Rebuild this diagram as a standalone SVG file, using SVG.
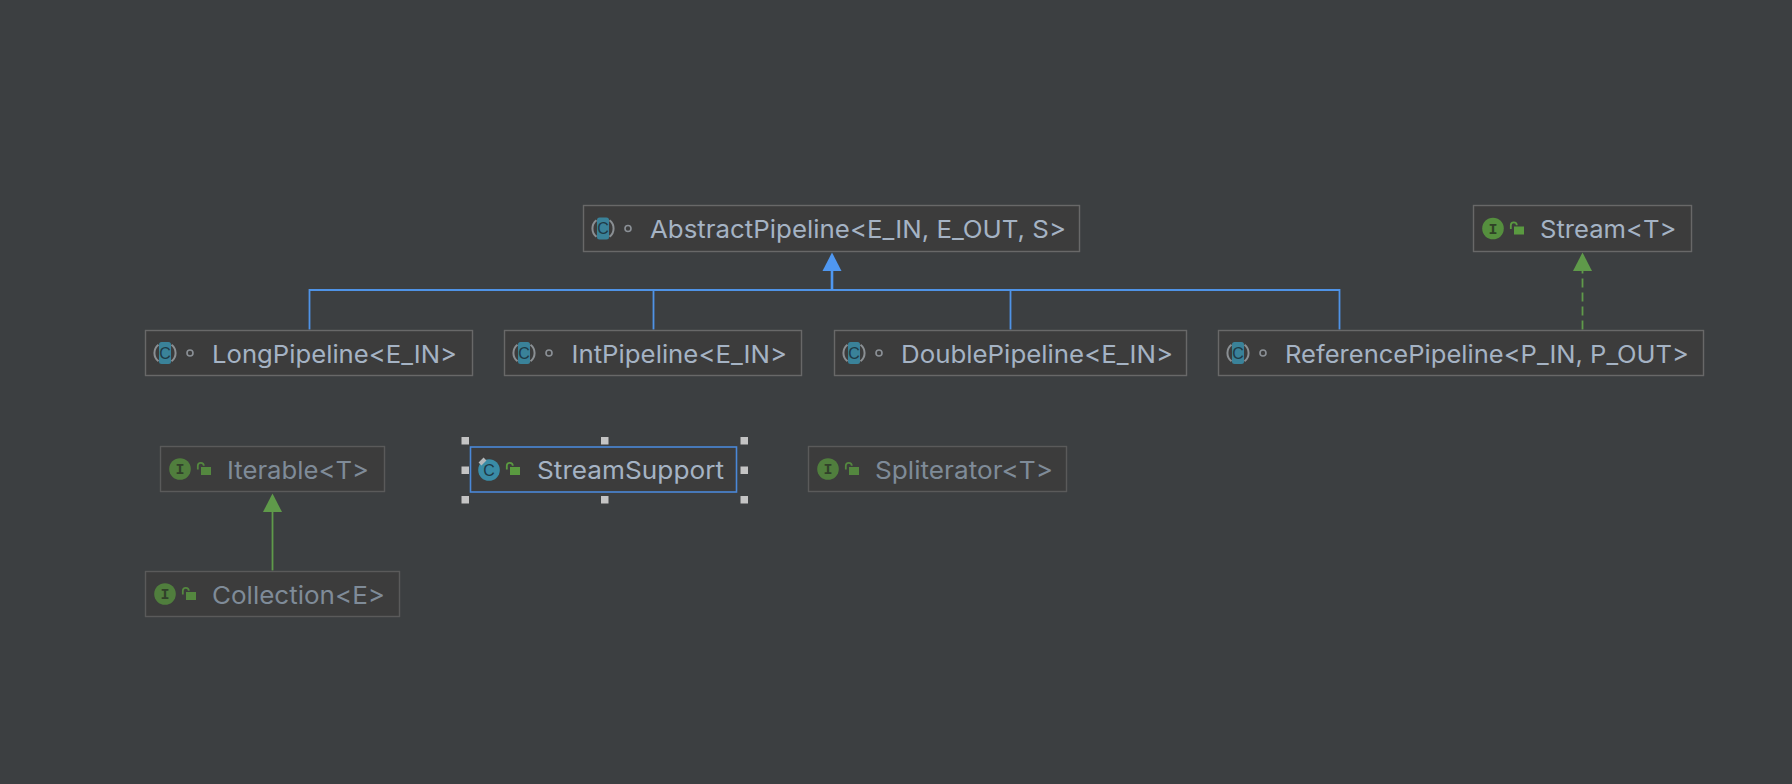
<svg xmlns="http://www.w3.org/2000/svg" width="1792" height="784" viewBox="0 0 1792 784">
<style>
.box{fill:#3c3c3c;stroke:#686868;stroke-width:1.4}
.dimbox{fill:#3c3c3c;stroke:#5a5a5a;stroke-width:1.4}
.sel{fill:#3c3c3c;stroke:#4a88d8;stroke-width:1.6}
.t{font-family:Inter,Roboto,"Liberation Sans",sans-serif;font-size:24.5px;fill:#a5b3c4}
.d{fill:#7f8b98}
.c{font-family:"Liberation Sans",sans-serif;font-size:16px;text-anchor:middle;fill:#1f3a46}
.i{font-family:"Liberation Mono",monospace;font-size:15px;font-weight:bold;text-anchor:middle;fill:#2f4226}
.h{fill:#c4c4c4}
.blue{fill:none;stroke:#4f93e6;stroke-width:1.8}
.green{fill:none;stroke:#5f9a4a;stroke-width:1.8}
</style>
<defs>
<g id="cls">
<path d="M-6.5,-8.3A10.5,10.5 0 0 0 -6.5,8.3M6.5,-8.3A10.5,10.5 0 0 1 6.5,8.3" fill="none" stroke="#8a8f93" stroke-width="2"/>
<rect x="-6" y="-11" width="12" height="22" rx="2.5" fill="#3a8299"/>
</g>
<circle id="dot" r="3" fill="none" stroke="#8b9096" stroke-width="1.6"/>
<circle id="ifc" r="10.8" fill="#558f3e"/>
<g id="lock">
<rect x="-3" y="-2" width="10" height="8" fill="#5a9a40"/>
<path d="M-6.2,0.5V-3.2A3,3 0 0 1 -0.2,-3.2" fill="none" stroke="#5a9a40" stroke-width="1.8"/>
</g>
</defs>
<rect width="1792" height="784" fill="#3c3f41"/>
<g id="connectors">
<path class="blue" d="M309.5,329.5V290H1339.5V329.5M653.5,290V329.5M1010.5,290V329.5"/>
<path d="M832,290V268" fill="none" stroke="#4f97f0" stroke-width="2.6"/>
<path d="M832,252.5L841.5,271H822.5Z" fill="#4f97f0"/>
<path class="green" d="M1582.5,329.5V268" stroke-dasharray="9 5"/>
<path d="M1582.5,252.5L1592,271H1573Z" fill="#5f9a4a"/>
<path class="green" d="M272.5,570.5V509"/>
<path d="M272.5,493.5L282,512H263Z" fill="#5f9a4a"/>
</g>
<g id="abstract-pipeline">
<rect class="box" x="583.5" y="205.5" width="496" height="46"/>
<use href="#cls" x="603" y="228.5"/><text class="c" x="603" y="234" >C</text><use href="#dot" x="628" y="228.5"/>
<text class="t" x="650" y="238" textLength="416" lengthAdjust="spacingAndGlyphs">AbstractPipeline&lt;E_IN, E_OUT, S&gt;</text>
</g>
<g id="stream">
<rect class="box" x="1473.5" y="205.5" width="218" height="46"/>
<use href="#ifc" x="1493" y="228.5"/><text class="i" x="1493" y="233.5">I</text><use href="#lock" x="1517" y="228.5"/>
<text class="t" x="1540" y="238" textLength="136.5" lengthAdjust="spacingAndGlyphs">Stream&lt;T&gt;</text>
</g>
<g id="long-pipeline">
<rect class="box" x="145.5" y="330.5" width="327" height="45"/>
<use href="#cls" x="165" y="353"/><text class="c" x="165" y="358.5">C</text><use href="#dot" x="190" y="353"/>
<text class="t" x="212" y="363" textLength="245" lengthAdjust="spacingAndGlyphs">LongPipeline&lt;E_IN&gt;</text>
</g>
<g id="int-pipeline">
<rect class="box" x="504.5" y="330.5" width="297" height="45"/>
<use href="#cls" x="524" y="353"/><text class="c" x="524" y="358.5">C</text><use href="#dot" x="549" y="353"/>
<text class="t" x="571.5" y="363" textLength="215.5" lengthAdjust="spacingAndGlyphs">IntPipeline&lt;E_IN&gt;</text>
</g>
<g id="double-pipeline">
<rect class="box" x="834.5" y="330.5" width="352" height="45"/>
<use href="#cls" x="854" y="353"/><text class="c" x="854" y="358.5">C</text><use href="#dot" x="879" y="353"/>
<text class="t" x="901" y="363" textLength="272" lengthAdjust="spacingAndGlyphs">DoublePipeline&lt;E_IN&gt;</text>
</g>
<g id="reference-pipeline">
<rect class="box" x="1218.5" y="330.5" width="485" height="45"/>
<use href="#cls" x="1238" y="353"/><text class="c" x="1238" y="358.5">C</text><use href="#dot" x="1263" y="353"/>
<text class="t" x="1285" y="363" textLength="404" lengthAdjust="spacingAndGlyphs">ReferencePipeline&lt;P_IN, P_OUT&gt;</text>
</g>
<g id="iterable">
<rect class="dimbox" x="160.5" y="446.5" width="224" height="45"/>
<g opacity=".8"><use href="#ifc" x="180" y="469"/><text class="i" x="180" y="474">I</text><use href="#lock" x="204" y="469"/></g>
<text class="t d" x="227" y="479" textLength="142" lengthAdjust="spacingAndGlyphs">Iterable&lt;T&gt;</text>
</g>
<g id="stream-support">
<rect class="sel" x="470.5" y="447" width="266" height="45"/>
<circle cx="489" cy="470" r="10.8" fill="#3a8ca6"/>
<path d="M480,464L485,459" stroke="#b4b8ba" stroke-width="4" fill="none"/>
<text class="c" x="489" y="475.5">C</text><use href="#lock" x="513" y="469"/>
<text class="t" x="537" y="479" textLength="187" lengthAdjust="spacingAndGlyphs">StreamSupport</text>
<g class="h">
<rect x="461.5" y="437" width="7.5" height="7.5"/><rect x="601" y="437" width="7.5" height="7.5"/><rect x="740.5" y="437" width="7.5" height="7.5"/>
<rect x="461.5" y="466.5" width="7.5" height="7.5"/><rect x="740.5" y="466.5" width="7.5" height="7.5"/>
<rect x="461.5" y="496" width="7.5" height="7.5"/><rect x="601" y="496" width="7.5" height="7.5"/><rect x="740.5" y="496" width="7.5" height="7.5"/>
</g>
</g>
<g id="spliterator">
<rect class="dimbox" x="808.5" y="446.5" width="258" height="45"/>
<g opacity=".8"><use href="#ifc" x="828" y="469"/><text class="i" x="828" y="474">I</text><use href="#lock" x="852" y="469"/></g>
<text class="t d" x="875" y="479" textLength="178" lengthAdjust="spacingAndGlyphs">Spliterator&lt;T&gt;</text>
</g>
<g id="collection">
<rect class="dimbox" x="145.5" y="571.5" width="254" height="45"/>
<g opacity=".8"><use href="#ifc" x="165" y="594"/><text class="i" x="165" y="599">I</text><use href="#lock" x="189" y="594"/></g>
<text class="t d" x="212" y="604" textLength="173" lengthAdjust="spacingAndGlyphs">Collection&lt;E&gt;</text>
</g>
</svg>
